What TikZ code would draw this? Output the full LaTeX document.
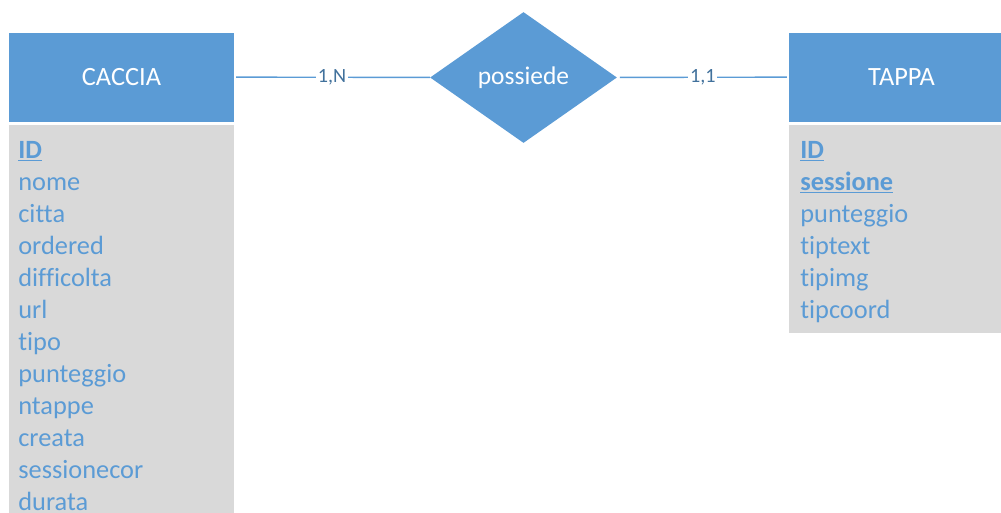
\documentclass[tikz,border=0pt]{standalone}
\usepackage{fontspec}
\setmainfont{Carlito}[Ligatures=NoCommon]
\usetikzlibrary{shapes.geometric, positioning}
\definecolor{erblue}{HTML}{5B9BD5}
\definecolor{ergray}{HTML}{D9D9D9}
\definecolor{erlabel}{HTML}{41719C}

\begin{document}
\begin{tikzpicture}[x=0.02cm, y=-0.02cm,
    entita/.style={rectangle, fill=erblue, text=white, inner sep=0pt,
        minimum width=4.5cm, minimum height=1.78cm,
        font=\fontsize{15}{18}\selectfont},
    corpo/.style={rectangle, fill=ergray, inner sep=0pt, minimum width=4.5cm},
    relazione/.style={diamond, fill=erblue, text=white, inner sep=0pt,
        minimum width=3.74cm, minimum height=2.62cm,
        font=\fontsize{14.5}{17}\selectfont},
    attr/.style={anchor=base west, text=erblue, inner sep=0pt,
        font=\fontsize{15}{18}\selectfont},
    card/.style={fill=white, text=erlabel, inner sep=1pt,
        font=\fontsize{11.5}{14}\selectfont},
    link/.style={erblue, line width=0.8pt}]
\useasboundingbox (0, 0) rectangle (1001, 512);

% 1. 两个实体和一个关系
\node[entita] (caccia) at (121.5, 77) {CACCIA};
\node[entita] (tappa) at (901.5, 77) {TAPPA};
\node[relazione] (possiede) at (523.5, 77.5) {possiede};

% 2. 属性区域
\node[corpo, minimum height=8cm, below=0.06cm of caccia] (caccia-corpo) {};
\node[corpo, minimum height=4.16cm, below=0.06cm of tappa] (tappa-corpo) {};

% 3. 属性
\foreach \a [count=\i from 0] in
    {{\underline{\textbf{ID}}}, nome, citta, ordered, difficolta, url, tipo,
     punteggio, ntappe, creata, sessionecor, durata}
    {\node[attr] (caccia-\i) at (18, 158+32*\i) {\a};
    }
\foreach \a [count=\i from 0] in
    {{\underline{\textbf{ID}}}, {\underline{\textbf{sessione}}}, punteggio,
     tiptext, tipimg, tipcoord}
    {\node[attr] (tappa-\i) at (800, 158+32*\i) {\a};
    }

% 4. 连线和基数
\draw[link, shorten <=1pt] (caccia) -- node[card] {1,N} (possiede);
\draw[link, shorten <=1.5pt, shorten >=1pt] (possiede) -- node[card] {1,1} (tappa);
\end{tikzpicture}
\end{document}
